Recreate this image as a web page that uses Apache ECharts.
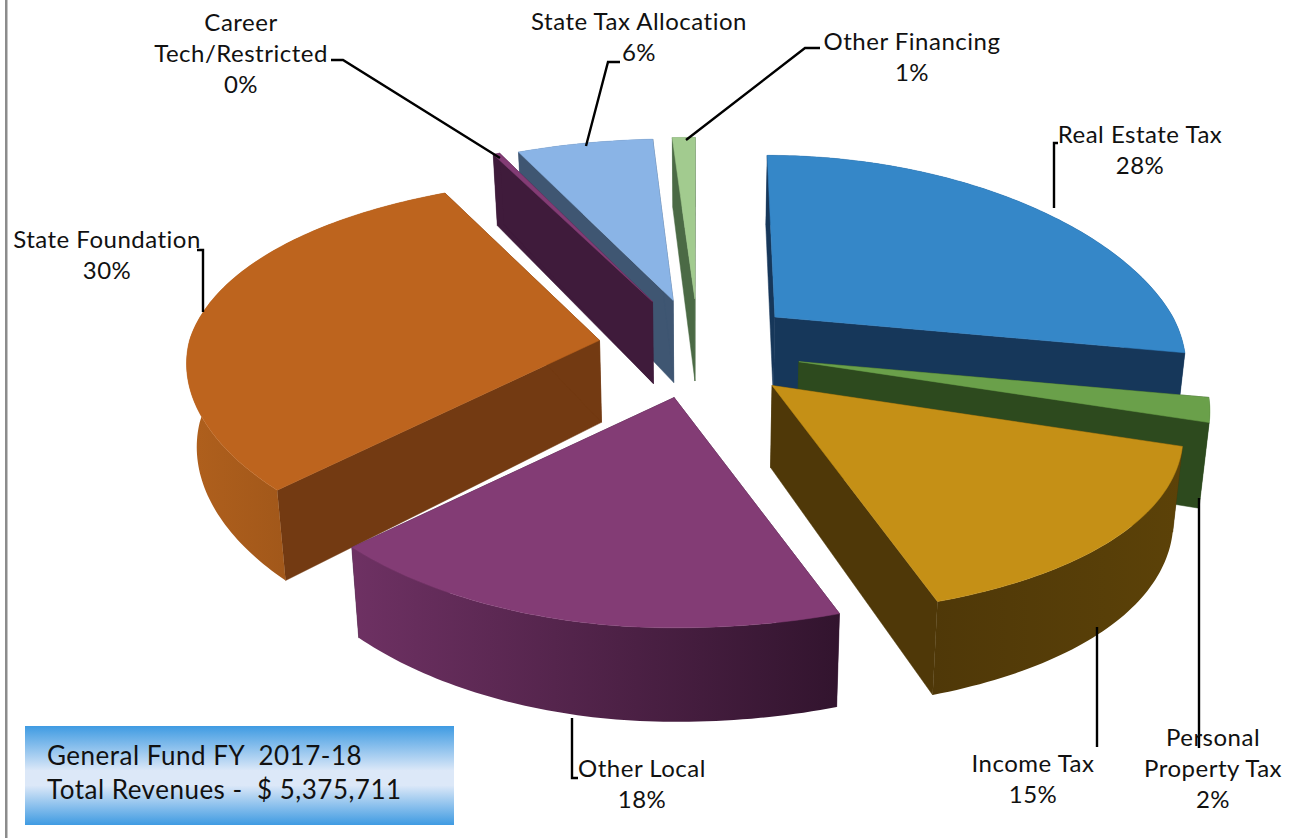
<!DOCTYPE html>
<html><head><meta charset="utf-8">
<script src="https://cdn.jsdelivr.net/npm/echarts@6/dist/echarts.min.js"></script>
<style>html,body{margin:0;padding:0;background:#fff}#c{width:1312px;height:838px}
svg text{font-variant-ligatures:none;letter-spacing:0.5px}</style>
</head><body><div id="c"></div>
<script>
// ---- data, in pie order (clockwise from 12 o'clock)
const categories = ['Real Estate Tax','Personal\nProperty Tax','Income Tax','Other Local','State Foundation','Career\nTech/Restricted','State Tax Allocation','Other Financing'];
const values = [28,2,15,18,30,0.3,6,1];
const explosion = [1,1.04,1.04,1,1,1.05,1,1];
const boxLines = ['General Fund FY  2017-18','Total Revenues -  $ 5,375,711'];

// ---- styles
const topColors = ['#3587C8','#6AA04A','#C59016','#833C75','#BD641E','#833C75','#8AB4E6','#A2CB8F'];
const wallColors = ['#16375A','#2D4A1E','#4F3808','#3F1B3B','#733A12','#3F1B3B','#3F5672','#4B6A45'];
const arcColors = [['#16375A','#16375A'],['#2D4A1E','#2D4A1E'],['#4F3808','#5C4208'],['#6E3163','#32142E'],['#B0601D','#8A4A15'],['#3F1B3B','#3F1B3B'],['#3F5672','#3F5672'],['#4B6A45','#4B6A45']];
const paintOrder = [7,6,5,0,1,2,4,3];
// ---- projection of the tilted pie
const P = {cx:698,cy:349,ex:100,ey:50,Al:410,Ar:398,B:190,k:0.175,kl:0.12,kr:0.25,lean:0.1,d0:82,d1:12,shrink:0.02};
// ---- label placement: centre of text, leader polyline
const labelLayout = [
 {x:1140,y:149,line:[[1058,143],[1054,143],[1054,208]]},
 {x:1213,y:767,line:[[1199,748],[1199,498]]},
 {x:1033,y:778,line:[[1097,747],[1097,627]]},
 {x:642,y:783,line:[[578,778],[572,778],[572,718]]},
 {x:107,y:254,line:[[197,250],[203,250],[203,312]]},
 {x:241,y:52,line:[[331,60],[343,60],[500,158]]},
 {x:639,y:36,line:[[620,62],[608,62],[586,146]]},
 {x:912,y:56,line:[[820,48],[805,48],[686,140]]}
];
const FONT = 'Lato';
const total = values.reduce((a,b)=>a+b,0);
const starts = []; values.reduce((a,b,i)=>{starts[i]=a;return a+b;},0);

function slicePts(i){
  const t0=starts[i]/total*2*Math.PI, t1=(starts[i]+values[i])/total*2*Math.PI, mid=(t0+t1)/2;
  const ax=P.cx+P.ex*explosion[i]*Math.sin(mid), ay=P.cy-P.ey*explosion[i]*Math.cos(mid);
  const rim=[]; const n=Math.max(2,Math.ceil((t1-t0)/(Math.PI/180)));
  for(let j=0;j<=n;j++){
    const t=t0+(t1-t0)*j/n,u=Math.sin(t),v=-Math.cos(t);
    const A=u<0?P.Al:P.Ar, kx=u<0?P.kl:P.kr;
    rim.push({x:ax+A*u/(1-kx*v)+(ax-P.cx)*P.lean*Math.min(v,0),y:ay+P.B*v/(1-P.k*v),d:P.d0+P.d1*v});
  }
  const down=p=>[p.x-P.shrink*(p.x-P.cx),p.y+p.d];
  const up=p=>[p.x,p.y];
  const apex={x:ax,y:ay,d:P.d0};
  return {apex,rim,down,up};
}
function poly(points,fill){
  return {type:'polygon',shape:{points},style:{fill,stroke:fill,lineWidth:0.5}};
}
function renderSlice(params){
  const i=paintOrder[params.dataIndex];
  const {apex,rim,down,up}=slicePts(i);
  const first=rim[0],last=rim[rim.length-1];
  const children=[];
  children.push(poly([up(apex),up(first),down(first),down(apex)],wallColors[i]));
  children.push(poly([up(apex),up(last),down(last),down(apex)],wallColors[i]));
  const arc=rim.map(up).concat(rim.slice().reverse().map(down));
  const g=new echarts.graphic.LinearGradient(0,0,1,0,[{offset:0,color:arcColors[i][0]},{offset:1,color:arcColors[i][1]}]);
  children.push({type:'polygon',shape:{points:arc},style:{fill:g}});
  children.push(poly([up(apex)].concat(rim.map(up)),topColors[i]));
  return {type:'group',children};
}
function renderLabel(params){
  const i=params.dataIndex, l=labelLayout[i];
  const pct=Math.round(values[i]/total*100);
  return {type:'group',children:[
    {type:'polyline',shape:{points:l.line},style:{fill:null,stroke:'#000',lineWidth:2.4},silent:true},
    {type:'text',x:l.x,y:l.y,style:{text:categories[i]+'\n'+pct+'%',align:'center',verticalAlign:'middle',font:'24px '+FONT,lineHeight:31,fill:'#111'},silent:true}
  ]};
}
const chart=echarts.init(document.getElementById('c'),null,{renderer:'svg'});
chart.setOption({
  animation:false,
  backgroundColor:'#fff',
  graphic:[
    {type:'rect',shape:{x:5,y:0,width:2.5,height:838},style:{fill:'#8c8c8c'},silent:true,z:0},
    {type:'rect',shape:{x:25,y:726,width:429,height:99},style:{fill:new echarts.graphic.LinearGradient(0,0,0,1,[{offset:0,color:'#3F9BE2'},{offset:0.45,color:'#DCE8F8'},{offset:0.6,color:'#DCE8F8'},{offset:1,color:'#3F9BE2'}])},silent:true,z:0},
    {type:'text',x:47,y:755,style:{text:boxLines[0],font:'26px '+FONT,fill:'#111',verticalAlign:'middle'},silent:true,z:1},
    {type:'text',x:47,y:789,style:{text:boxLines[1],font:'26px '+FONT,fill:'#111',verticalAlign:'middle'},silent:true,z:1}
  ],
  series:[
    {type:'custom',coordinateSystem:'none',silent:true,z:2,data:paintOrder.map(i=>({name:categories[i],value:values[i]})),renderItem:renderSlice},
    {type:'custom',coordinateSystem:'none',silent:true,z:3,data:categories.map((c,i)=>({name:c,value:values[i]})),renderItem:renderLabel}
  ]
});
</script></body></html>
